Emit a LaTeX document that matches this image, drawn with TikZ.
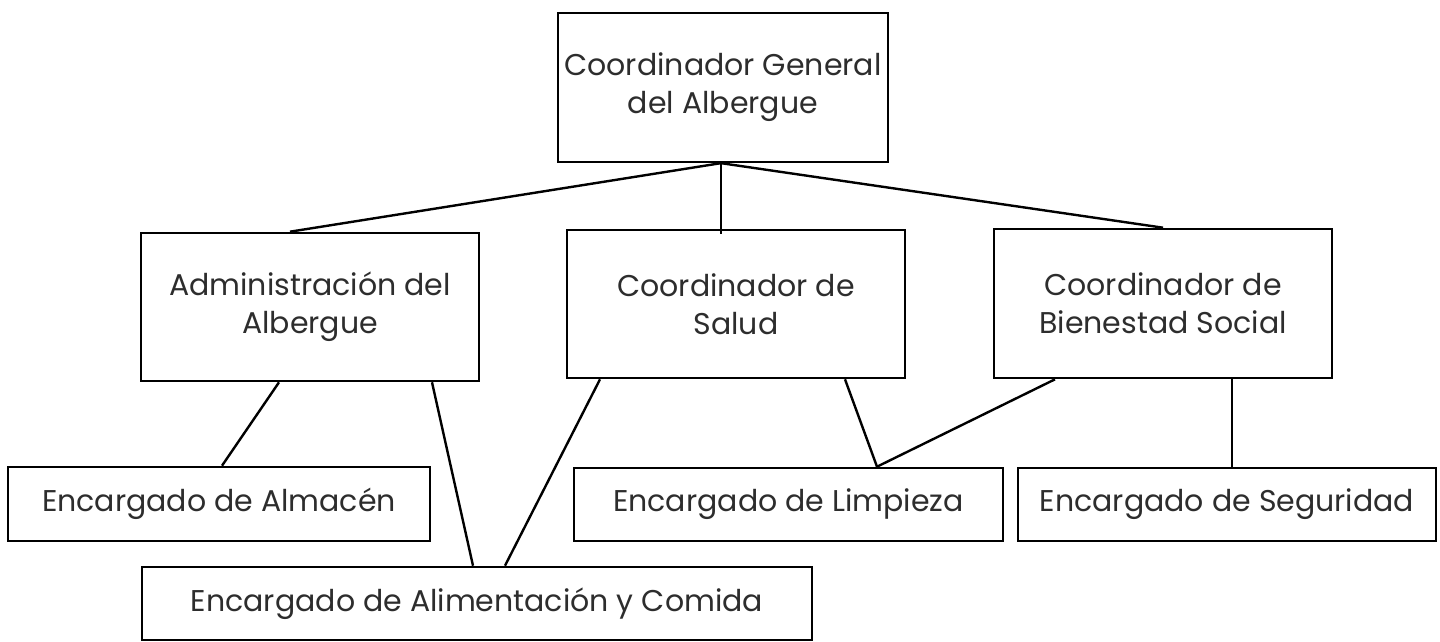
\documentclass[tikz,border=0pt]{standalone}
\usepackage{fontspec}
\setmainfont{Poppins}
\definecolor{txt}{RGB}{45,45,45}
\begin{document}
\begin{tikzpicture}[x=1pt,y=-1pt,
  box/.style={draw, line width=2.6pt, align=center, inner sep=0pt, text=txt,
    font=\fontsize{30}{38}\selectfont},
  conn/.style={line width=2.4pt}]
\useasboundingbox (0,0) rectangle (1440,642);
% boxes
\node[box, minimum width=330pt, minimum height=149pt] (top) at (723,87.5) {\raisebox{-4pt}{\parbox{320pt}{\centering Coordinador General\\del Albergue}}};
\node[box, minimum width=338pt, minimum height=148pt] (adm) at (310,307) {Administración del\\Albergue};
\node[box, minimum width=338pt, minimum height=148pt] (sal) at (736,304) {Coordinador de\\Salud};
\node[box, minimum width=338pt, minimum height=149pt] (bie) at (1163,303.5) {Coordinador de\\Bienestad Social};
\node[box, minimum width=422pt, minimum height=74pt] (alm) at (219,504) {Encargado de Almacén};
\node[box, minimum width=429pt, minimum height=73pt] (lim) at (788.5,504.5) {Encargado de Limpieza};
\node[box, minimum width=418pt, minimum height=73pt] (seg) at (1227,504.5) {Encargado de Seguridad};
\node[box, minimum width=670pt, minimum height=73pt] (ali) at (477,603.5) {Encargado de Alimentación y Comida};
% connectors
\draw[conn] ([xshift=-3pt]top.south) -- ([xshift=-20pt]adm.north);
\draw[conn] ([xshift=-2pt]top.south) -- ([xshift=-15pt,yshift=-5pt]sal.north);
\draw[conn] ([xshift=-1pt]top.south) -- (bie.north);
\draw[conn] ([xshift=-31pt]adm.south) -- ([xshift=3pt]alm.north);
\draw[conn] ([xshift=122pt]adm.south) -- ([xshift=-4pt]ali.north);
\draw[conn] ([xshift=-136pt]sal.south) -- ([xshift=28pt]ali.north);
\draw[conn] ([xshift=109pt]sal.south) -- ([xshift=88.5pt]lim.north);
\draw[conn] ([xshift=-108pt]bie.south) -- ([xshift=88.5pt]lim.north);
\draw[conn] ([xshift=69pt]bie.south) -- ([xshift=5pt]seg.north);
\end{tikzpicture}
\end{document}
